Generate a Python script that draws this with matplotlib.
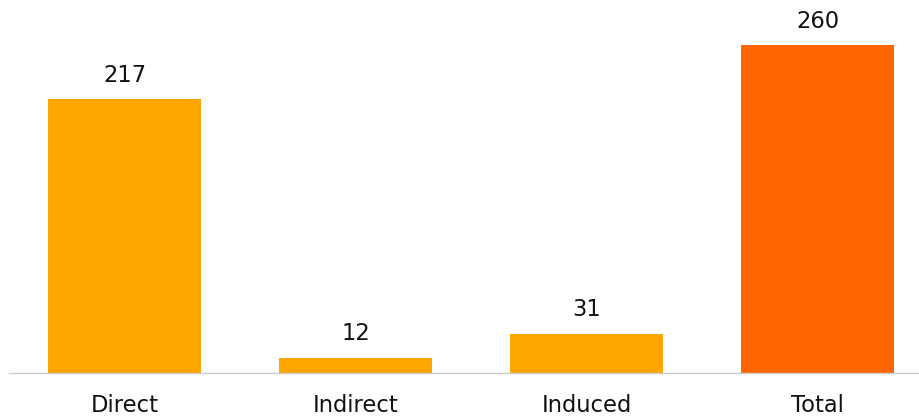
import matplotlib
matplotlib.use("Agg")
import matplotlib.pyplot as plt

categories = ["Direct", "Indirect", "Induced", "Total"]
values = [217, 12, 31, 260]
colors = ["#FFA500", "#FFA500", "#FFA500", "#FF6600"]

plt.rcParams['font.family'] = ['DejaVu Sans']

W, H = 920, 417
fig = plt.figure(figsize=(W/100, H/100), dpi=100)
base = 373
ax = fig.add_axes([9/W, (H-base)/H, 924/W, base/H])
x = range(len(categories))
bars = ax.bar(x, values, width=0.662, color=colors)
ax.set_xlim(-0.5, 3.5)
ax.set_ylim(0, 260*373/328)
for b, v in zip(bars, values):
    ax.annotate(str(v), (b.get_x()+b.get_width()/2, v), xytext=(0, 9), textcoords='offset points',
                ha='center', va='bottom', fontsize=16.3, color='#111111')
ax.set_xticks(list(x))
ax.set_xticklabels(categories, fontsize=16.3, color='#111111')
ax.tick_params(axis='x', length=0, pad=15)
ax.set_yticks([])
for s in ['top', 'right', 'left']:
    ax.spines[s].set_visible(False)
ax.spines['bottom'].set_color('#cccccc')
ax.spines['bottom'].set_linewidth(1)
fig.savefig("out.png", dpi=100)
